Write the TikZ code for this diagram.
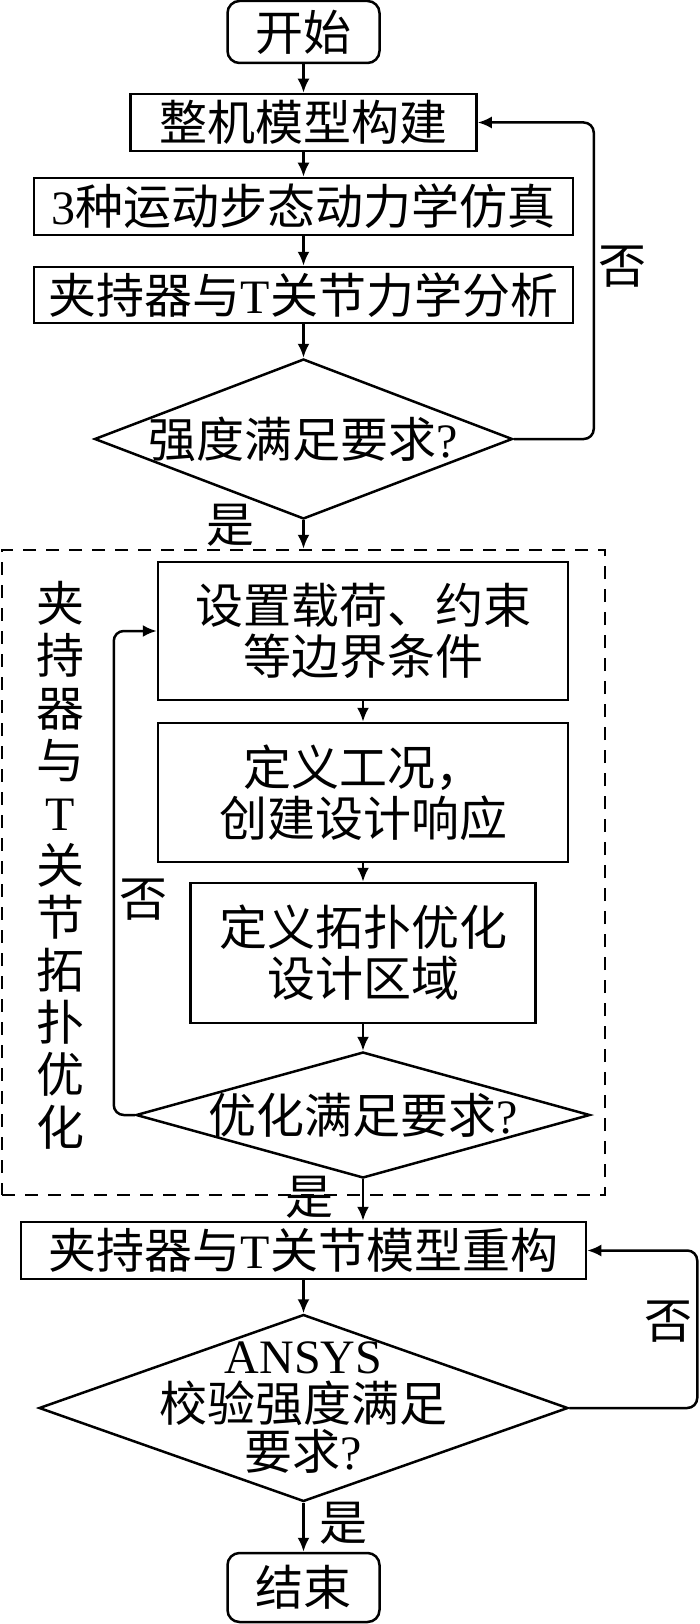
\documentclass[tikz,border=0pt]{standalone}
\usepackage{fontspec}
\setmainfont{Noto Sans CJK SC}
\newfontfamily\lat{Liberation Serif}
\usetikzlibrary{shapes.geometric,arrows.meta}
\begin{document}
\begin{tikzpicture}[x=1pt,y=-1pt,line width=2.5pt,>={Latex[length=14pt,width=12pt]},
 font=\fontsize{48pt}{51pt}\selectfont, every node/.style={inner sep=0pt},
 term/.style={draw,rectangle,rounded corners=12pt,minimum width=152pt},
 proc/.style={draw,rectangle,align=center},
 dec/.style={draw,diamond},
 grp/.style={draw,dash pattern=on 13pt off 10pt}]
\useasboundingbox (0,0) rectangle (700,1624);
\node[grp,minimum width=603pt,minimum height=645pt] (grp) at (303.5,872.5) {};
\node[term,minimum height=62pt] (start) at (303.5,32) {开始};
\node[proc,minimum width=346pt,minimum height=57pt] (b1) at (303.5,122.5) {整机模型构建};
\node[proc,minimum width=539pt,minimum height=57pt] (b2) at (303.5,206.5) {{\lat 3}种运动步态动力学仿真};
\node[proc,minimum width=539pt,minimum height=56pt] (b3) at (303.5,295) {夹持器与{\lat T}关节力学分析};
\node[dec,minimum width=418pt,minimum height=160pt] (d1) at (303.5,439) {};
\node (t1) at (d1) {强度满足要求{\lat ?}};
\node[align=center,font=\fontsize{48pt}{52.4pt}\selectfont] (side) at (60,865) {夹\\持\\器\\与\\{\lat T}\\关\\节\\拓\\扑\\优\\化};
\node[proc,minimum width=410pt,minimum height=138pt] (b4) at (363,631) {设置载荷、约束\\等边界条件};
\node[proc,minimum width=410pt,minimum height=139pt] (b5) at (363,792.5) {定义工况，\\创建设计响应};
\node[proc,minimum width=345pt,minimum height=140pt] (b6) at (363,953) {定义拓扑优化\\设计区域};
\node[dec,minimum width=454pt,minimum height=126pt] (d2) at (363,1115) {};
\node (t2) at (d2) {优化满足要求{\lat ?}};
\node[proc,minimum width=565pt,minimum height=57pt] (b7) at (303.5,1250.5) {夹持器与{\lat T}关节模型重构};
\node[dec,minimum width=529pt,minimum height=187pt] (d3) at (303.5,1408) {};
\node[align=center,font=\fontsize{48pt}{48pt}\selectfont] (t3) at (d3) {{\lat ANSYS}\\校验强度满足\\要求{\lat ?}};
\node[term,minimum height=69pt] (end) at (303.5,1587.5) {结束};
\node (no1) at (622,267) {否};
\node (yes1) at (230,525) {是};
\node (no2) at (143,900) {否};
\node (yes2) at (309,1197) {是};
\node (no3) at (668,1322) {否};
\node (yes3) at (343,1523) {是};
\draw[->] (start) -- (b1);
\draw[->] (b1) -- (b2);
\draw[->] (b2) -- (b3);
\draw[->] (b3) -- (d1);
\draw[->] (d1.south) -- (grp.north);
\draw[->,rounded corners=10pt] (d1.east) -- ++(80,0) |- (b1.east);
\draw[->] (b4) -- (b5);
\draw[->] (b5) -- (b6);
\draw[->] (b6) -- (d2);
\draw[->,rounded corners=10pt] (d2.west) -- ++(-21,0) |- (b4.west);
\draw[->] (d2.south) -- (d2.south |- b7.north);
\draw[->] (b7) -- (d3);
\draw[->,rounded corners=10pt] (d3.east) -- ++(128,0) |- (b7.east);
\draw[->] (d3) -- (end);
\end{tikzpicture}
\end{document}
